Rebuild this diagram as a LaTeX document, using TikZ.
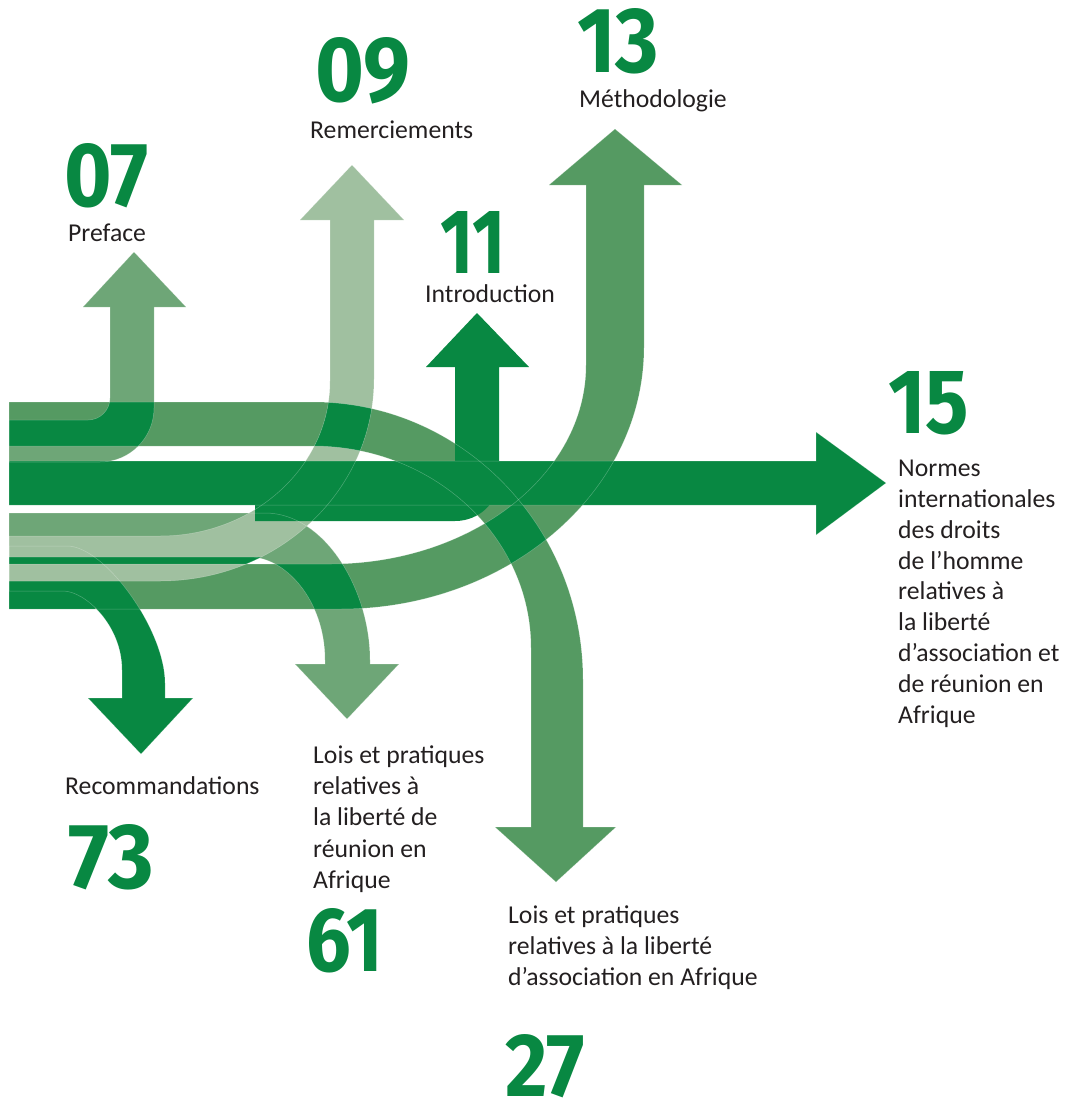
\documentclass[tikz,border=0pt]{standalone}
\usepackage{fontspec}
\setmainfont{Carlito}
\newfontfamily\numfont{Fira Sans}

\definecolor{gdark}{RGB}{8,136,66}
\definecolor{gmid}{RGB}{85,154,98}
\definecolor{gpref}{RGB}{110,166,119}
\definecolor{glight}{RGB}{160,192,160}
\definecolor{ink}{RGB}{35,31,32}

\newcommand{\chapnum}[3]{\resizebox{#1pt}{#2pt}{\numfont\bfseries #3}}

% the bands, in pixel coordinates
\newcommand{\pathNormes}{(9,461) -- (816,461) -- (816,432) -- (886,483) -- (816,535) -- (816,505) -- (9,505) -- cycle}
\newcommand{\pathAsso}{(9,402) -- (313,402) .. controls (462,402) and (583,526.5) .. (583,680) -- (583,827) -- (616,827) -- (556,882) -- (495,827) -- (531,827) -- (531,648) .. controls (531,536.4) and (433.4,446) .. (313,446) -- (9,446) -- cycle}
\newcommand{\pathMetho}{(9,564) -- (330,564) .. controls (471.4,564) and (586,474.9) .. (586,365) -- (586,185) -- (549,185) -- (615,129) -- (682,185) -- (644,185) -- (644,347) .. controls (644,491.7) and (507.9,609) .. (340,609) -- (9,609) -- cycle}
\newcommand{\pathMerci}{(9,536) -- (160,536) .. controls (253.9,536) and (330,466.6) .. (330,381) -- (330,220) -- (300,220) -- (352,165) -- (404,220) -- (374,220) -- (374,379) .. controls (374,490.6) and (278.2,581) .. (160,581) -- (9,581) -- cycle}
\newcommand{\pathPreface}{(9,420) -- (88,420) .. controls (100.2,420) and (110,410.2) .. (110,398) -- (110,307) -- (83,307) -- (134,252) -- (186,307) -- (154,307) -- (154,408) .. controls (154,437.8) and (129.8,462) .. (100,462) -- (9,462) -- cycle}
\newcommand{\pathReunion}{(9,513) -- (265,513) .. controls (325,513) and (370,590) .. (370,660) -- (370,664) -- (399,664) -- (347,719) -- (295,664) -- (325,664) -- (325,660) .. controls (325,600) and (285,557) .. (250,557) -- (9,557) -- cycle}
\newcommand{\pathRecom}{(9,546) -- (67,546) .. controls (105,546) and (165,630) .. (165,683) -- (165,698) -- (193,698) -- (141,754) -- (88,698) -- (122,698) -- (122,670) .. controls (122,625) and (85,591) .. (63,591) -- (9,591) -- cycle}
\newcommand{\pathIntro}{(255,478) -- (455,478) -- (455,367) -- (426,367) -- (477,313) -- (529,367) -- (499,367) -- (499,478) .. controls (499,502.3) and (479.3,521) .. (455,521) -- (255,521) -- cycle}

\tikzset{
  lbl/.style={font=\fontsize{25.7}{30.8}\selectfont, text=ink, inner sep=0pt},
  num/.style={text=gdark, inner sep=0pt},
  seam/.style={white, opacity=0.28, line width=0.5pt}
}

\begin{document}
\begin{tikzpicture}[x=1pt,y=-1pt]
\useasboundingbox (0,0) rectangle (1076,1101);

% bands at the bottom of the bundle
\fill[gmid] \pathMetho;
\fill[gmid] \pathAsso;
\fill[gpref] \pathReunion;
\fill[gpref] \pathPreface;

% crossings are dark
\begin{scope}
\clip \pathAsso;
\fill[gdark] \pathMetho;
\fill[gdark] \pathPreface;
\end{scope}
\begin{scope}
\clip \pathMetho;
\fill[gdark] \pathReunion;
\end{scope}

\fill[gdark] \pathRecom;
\fill[gdark] (9,591) rectangle (95,609);

\fill[glight] \pathMerci;
\begin{scope}
\clip \pathMerci;
\fill[gdark] \pathAsso;
\fill[gdark] (9,557) rectangle (300,564);
\end{scope}

\fill[gdark] \pathNormes;
\fill[gdark] \pathIntro;

% thin seams along the edges
\foreach \p in {\pathMetho,\pathAsso,\pathReunion,\pathPreface,\pathRecom,\pathMerci,\pathNormes}{
\draw[seam] \p;
}

% page numbers
\node[num, anchor=south west] (n07) at (64,208) {\chapnum{84}{63}{07}};
\node[num, anchor=south west] (n09) at (315,104) {\chapnum{95}{64}{09}};
\node[num, anchor=south west] (n11) at (440,274) {\chapnum{65}{62}{11}};
\node[num, anchor=south west] (n13) at (577,74) {\chapnum{82}{64}{13}};
\node[num, anchor=south west] (n15) at (888,435) {\chapnum{81}{62}{15}};
\node[num, anchor=south west] (n73) at (68,890) {\chapnum{86}{64}{73}};
\node[num, anchor=south west] (n61) at (306,973) {\chapnum{77}{63}{61}};
\node[num, anchor=south west] (n27) at (505,1098) {\chapnum{80}{62}{27}};

% chapter titles
\node[lbl, anchor=base west] (preface) at (68,241.5) {Preface};
\node[lbl, anchor=base west] (merci) at (310,138) {Remerciements};
\node[lbl, anchor=base west] (intro) at (425,302) {Introduction};
\node[lbl, anchor=base west] (metho) at (579,107) {Méthodologie};
\node[lbl, anchor=base west] (recom) at (65,794) {Recommandations};

\foreach \txt [count=\i from 0] in {Normes, internationales, des droits, de l’homme, relatives à, la liberté, d’association et, de réunion en, Afrique}{
\node[lbl, anchor=base west] (normes-\i) at (898,{476.7+30.8*\i}) {\txt};
}
\foreach \txt [count=\i from 0] in {Lois et pratiques, relatives à, la liberté de, réunion en, Afrique}{
\node[lbl, anchor=base west] (reunion-\i) at (313,{763.3+31.25*\i}) {\txt};
}
\foreach \txt [count=\i from 0] in {Lois et pratiques, relatives à la liberté, d’association en Afrique}{
\node[lbl, anchor=base west] (asso-\i) at (508,{923.3+30.9*\i}) {\txt};
}

\end{tikzpicture}
\end{document}
